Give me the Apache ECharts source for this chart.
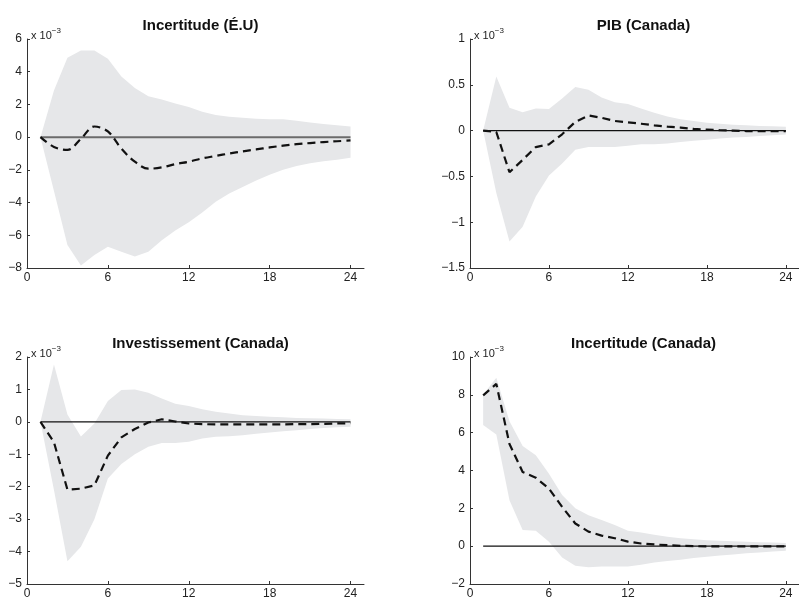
<!DOCTYPE html>
<html>
<head>
<meta charset="utf-8">
<script src="https://cdn.jsdelivr.net/npm/echarts@6/dist/echarts.min.js"></script>
<style>
  html, body { margin: 0; padding: 0; background: #fff; }
  #chart { width: 799px; height: 600px; }
</style>
</head>
<body>
<div id="chart"></div>
<script>
// Horizon (months) and x tick labels
const months = [1, 2, 3, 4, 5, 6, 7, 8, 9, 10, 11, 12, 13, 14, 15, 16, 17, 18, 19, 20, 21, 22, 23, 24];
const xTicks = [0, 6, 12, 18, 24];

// Responses, in units of 1e-3
// Incertitude (É.U)
const usUncUpper  = [0, 2.85, 4.85, 5.3, 5.3, 4.8, 3.7, 3.0, 2.5, 2.3, 2.05, 1.85, 1.55, 1.35, 1.25, 1.18, 1.13, 1.1, 1.1, 1.0, 0.9, 0.8, 0.73, 0.65];
const usUncLower  = [0, -3.3, -6.6, -7.85, -7.2, -6.7, -7.0, -7.3, -7.0, -6.3, -5.7, -5.2, -4.6, -3.95, -3.45, -3.05, -2.65, -2.3, -2.0, -1.77, -1.6, -1.47, -1.38, -1.26];
const usUncMedian = [0, -0.6, -0.78, -0.1, 0.65, 0.35, -0.7, -1.5, -1.93, -1.85, -1.65, -1.5, -1.3, -1.15, -1.0, -0.87, -0.75, -0.63, -0.52, -0.43, -0.36, -0.3, -0.25, -0.2];

// PIB (Canada)
const gdpUpper  = [0, 0.59, 0.25, 0.2, 0.24, 0.235, 0.35, 0.475, 0.445, 0.36, 0.31, 0.29, 0.24, 0.195, 0.155, 0.125, 0.105, 0.087, 0.076, 0.065, 0.058, 0.05, 0.047, 0.043];
const gdpLower  = [0, -0.68, -1.21, -1.05, -0.72, -0.49, -0.36, -0.21, -0.18, -0.18, -0.18, -0.165, -0.15, -0.15, -0.14, -0.125, -0.11, -0.1, -0.087, -0.076, -0.069, -0.058, -0.05, -0.043];
const gdpMedian = [0, -0.015, -0.455, -0.32, -0.18, -0.15, -0.04, 0.095, 0.165, 0.14, 0.105, 0.09, 0.075, 0.058, 0.043, 0.033, 0.018, 0.011, 0.004, 0, -0.005, -0.005, -0.006, -0.006];

// Investissement (Canada)
const invUpper  = [0, 1.77, 0.23, -0.45, -0.05, 0.64, 0.98, 1.0, 0.9, 0.72, 0.56, 0.49, 0.39, 0.31, 0.26, 0.2, 0.18, 0.16, 0.14, 0.12, 0.11, 0.1, 0.09, 0.08];
const invLower  = [0, -2.1, -4.3, -3.85, -3.0, -1.75, -1.3, -1.0, -0.77, -0.65, -0.65, -0.61, -0.51, -0.46, -0.44, -0.41, -0.37, -0.33, -0.29, -0.26, -0.22, -0.19, -0.17, -0.15];
const invMedian = [0, -0.63, -2.09, -2.06, -1.96, -1.04, -0.48, -0.22, -0.02, 0.08, 0.01, -0.05, -0.07, -0.08, -0.08, -0.08, -0.08, -0.08, -0.08, -0.07, -0.07, -0.06, -0.05, -0.04];

// Incertitude (Canada)
const caUncUpper  = [8.0, 8.9, 6.6, 5.3, 4.8, 3.83, 2.7, 2.0, 1.64, 1.38, 1.12, 0.82, 0.72, 0.6, 0.5, 0.42, 0.37, 0.31, 0.28, 0.26, 0.23, 0.21, 0.19, 0.17];
const caUncLower  = [6.4, 5.9, 2.43, 0.86, 0.82, 0.24, -0.6, -1.03, -1.12, -1.08, -1.07, -1.07, -0.98, -0.86, -0.79, -0.72, -0.63, -0.56, -0.49, -0.44, -0.38, -0.33, -0.28, -0.24];
const caUncMedian = [7.97, 8.58, 5.4, 3.92, 3.62, 3.04, 2.08, 1.2, 0.77, 0.56, 0.42, 0.24, 0.14, 0.09, 0.05, 0.02, 0.0, -0.01, -0.01, -0.01, -0.01, -0.01, -0.01, -0.01];

const panels = [
  { title: 'Incertitude (É.U)', upper: usUncUpper, lower: usUncLower, median: usUncMedian,
    yMin: -8, yMax: 6, yStep: 2, left: 27, top: 39, zeroColor: '#6b6b6b', zeroWidth: 2, smooth: 0.35 },
  { title: 'PIB (Canada)', upper: gdpUpper, lower: gdpLower, median: gdpMedian,
    yMin: -1.5, yMax: 1, yStep: 0.5, left: 470, top: 39, zeroColor: '#111', zeroWidth: 1.2, smooth: false },
  { title: 'Investissement (Canada)', upper: invUpper, lower: invLower, median: invMedian,
    yMin: -5, yMax: 2, yStep: 1, left: 27, top: 357, zeroColor: '#111', zeroWidth: 1.2, smooth: false },
  { title: 'Incertitude (Canada)', upper: caUncUpper, lower: caUncLower, median: caUncMedian,
    yMin: -2, yMax: 10, yStep: 2, left: 470, top: 357, zeroColor: '#111', zeroWidth: 1.2, smooth: false }
];

const FONT = "'Liberation Sans', Arial, Helvetica, sans-serif";
const PLOT_W = 337, PLOT_H = 229;
const axisCol = '#333';
const textCol = '#222';

const grids = [], xAxes = [], yAxes = [], series = [], titles = [];

// Confidence band drawn as one polygon: upper edge forward, lower edge back
function bandRenderer(p) {
  return function (params, api) {
    const pts = [];
    months.forEach((m, k) => pts.push(api.coord([m, p.upper[k]])));
    for (let k = months.length - 1; k >= 0; k--) pts.push(api.coord([months[k], p.lower[k]]));
    return {
      type: 'polygon',
      shape: { points: pts },
      style: { fill: '#e6e7e9', stroke: null },
      silent: true
    };
  };
}

panels.forEach((p, i) => {
  grids.push({ left: p.left, top: p.top, width: PLOT_W, height: PLOT_H, containLabel: false });

  xAxes.push({
    gridIndex: i, type: 'value', min: 0, max: 25, interval: 6,
    axisLine: { show: true, onZero: false, lineStyle: { color: axisCol, width: 1 } },
    axisTick: { show: true, inside: true, length: 3, customValues: xTicks, lineStyle: { color: axisCol } },
    axisLabel: { customValues: xTicks, color: textCol, fontFamily: FONT, fontSize: 12, margin: 4 },
    splitLine: { show: false }
  });

  yAxes.push({
    gridIndex: i, type: 'value', min: p.yMin, max: p.yMax, interval: p.yStep,
    axisLine: { show: true, onZero: false, lineStyle: { color: axisCol, width: 1 } },
    axisTick: { show: true, inside: true, length: 3, lineStyle: { color: axisCol } },
    axisLabel: {
      color: textCol, fontFamily: FONT, fontSize: 12, margin: 5,
      formatter: v => String(v).replace('-', '\u2212')
    },
    splitLine: { show: false }
  });

  series.push({
    type: 'custom', xAxisIndex: i, yAxisIndex: i,
    data: [[months[0], p.upper[0]]],
    renderItem: bandRenderer(p), silent: true, z: 1
  });
  // zero reference line
  series.push({
    type: 'line', xAxisIndex: i, yAxisIndex: i,
    data: [[months[0], 0], [months[months.length - 1], 0]],
    symbol: 'none', lineStyle: { color: p.zeroColor, width: p.zeroWidth }, silent: true, z: 2
  });
  // median response
  series.push({
    type: 'line', xAxisIndex: i, yAxisIndex: i,
    data: months.map((m, k) => [m, p.median[k]]),
    symbol: 'none', smooth: p.smooth,
    lineStyle: { color: '#111', width: 2.2, type: [8, 5], cap: 'butt' }, silent: true, z: 3
  });

  titles.push({
    text: p.title, left: p.left + PLOT_W / 2, top: p.top - 26, textAlign: 'center',
    textStyle: { fontFamily: FONT, fontWeight: 'bold', fontSize: 15, color: '#111' }
  });
  titles.push({
    text: '{b|x 10}{s|\u22123}', left: p.left - 1, top: p.top - 17,
    textStyle: {
      fontWeight: 'normal',
      rich: {
        b: { fontFamily: FONT, fontSize: 11, fontWeight: 'normal', color: textCol, verticalAlign: 'bottom' },
        s: { fontFamily: FONT, fontSize: 8, fontWeight: 'normal', color: textCol, verticalAlign: 'top', padding: [0, 0, 6, 0] }
      }
    }
  });
});

const chart = echarts.init(document.getElementById('chart'), null, { renderer: 'canvas' });
chart.setOption({
  animation: false,
  backgroundColor: '#fff',
  title: titles,
  grid: grids,
  xAxis: xAxes,
  yAxis: yAxes,
  series: series
});
</script>
</body>
</html>
